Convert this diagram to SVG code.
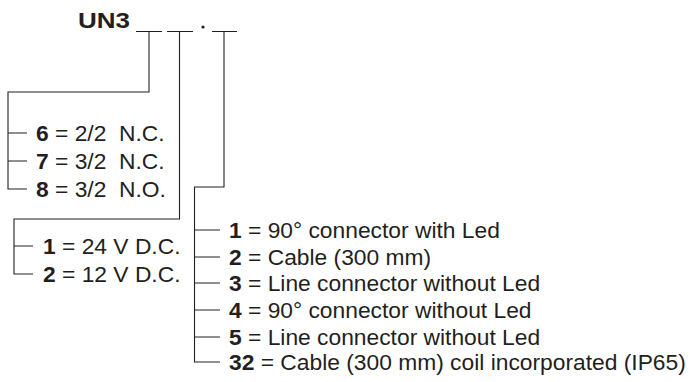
<svg xmlns="http://www.w3.org/2000/svg" width="690" height="382" viewBox="0 0 690 382">
<style>
text{font-family:"Liberation Sans",Arial,sans-serif;font-size:22.8px;fill:#231f20;white-space:pre}
.b{font-weight:bold}
.ln{fill:none;stroke:#231f20;stroke-width:1.1}
</style>
<rect width="690" height="382" fill="#fff"/>
<g id="code">
<text x="78" y="28" class="b" style="font-size:22px" textLength="52" lengthAdjust="spacingAndGlyphs">UN3</text>
<circle cx="203" cy="27" r="1.6" fill="#231f20"/>
</g>
<g id="connectors">
<path class="ln" d="M136 31.5H162M167 31.5H193M212 31.5H237"/>
<path class="ln" d="M149 31.5V92H8V189H27M8 133H27M8 161H27"/>
<path class="ln" d="M179.5 31.5V219H14V274H33M14 246H33"/>
<path class="ln" d="M224 31.5V187H194.5V362H220M194.5 230H220M194.5 257H220M194.5 283H220M194.5 310H220M194.5 337H220"/>
</g>
<g id="valve-type">
<text x="36" y="141"><tspan class="b">6</tspan> = 2/2  N.C.</text>
<text x="36" y="169"><tspan class="b">7</tspan> = 3/2  N.C.</text>
<text x="36" y="197"><tspan class="b">8</tspan> = 3/2  N.O.</text>
</g>
<g id="voltage">
<text x="43" y="254"><tspan class="b">1</tspan> = 24 V D.C.</text>
<text x="43" y="282"><tspan class="b">2</tspan> = 12 V D.C.</text>
</g>
<g id="connection">
<text x="229" y="238"><tspan class="b">1</tspan> = 90° connector with Led</text>
<text x="229" y="265"><tspan class="b">2</tspan> = Cable (300 mm)</text>
<text x="229" y="291"><tspan class="b">3</tspan> = Line connector without Led</text>
<text x="229" y="318"><tspan class="b">4</tspan> = 90° connector without Led</text>
<text x="229" y="345"><tspan class="b">5</tspan> = Line connector without Led</text>
<text x="229" y="370"><tspan class="b">32</tspan> = Cable (300 mm) coil incorporated (IP65)</text>
</g>
</svg>
